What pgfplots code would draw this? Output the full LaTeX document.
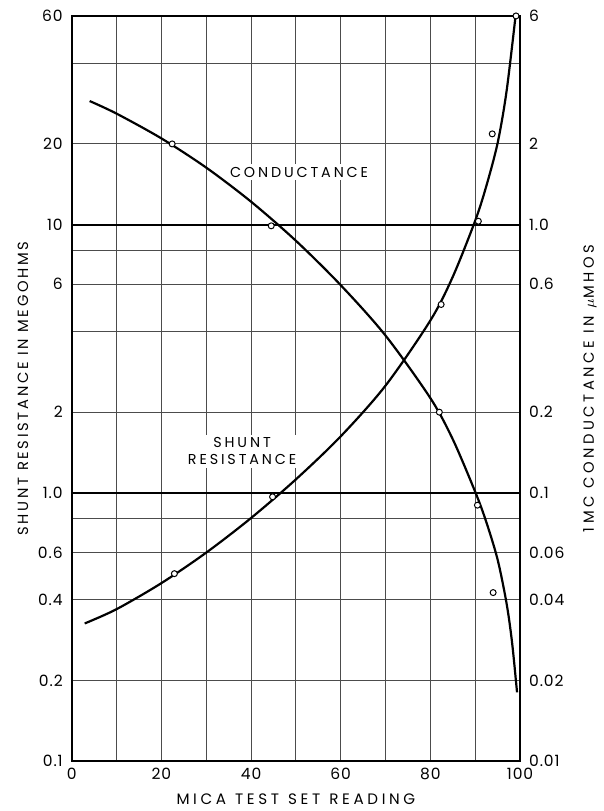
\documentclass[border=0pt]{standalone}
\usepackage{pgfplots}
\pgfplotsset{compat=1.18}
\usepackage{fontspec}
\setmainfont{Poppins}[LetterSpace=6]
\newfontfamily\lblfont{Poppins}[LetterSpace=20]
\newfontfamily\lblfontwide{Poppins}[LetterSpace=24]
\newfontfamily\lblfontnarrow{Poppins}[LetterSpace=18]
\begin{document}
\begin{tikzpicture}
\pgfplotsset{
  every axis/.append style={
    scale only axis,
    width=225pt, height=374pt,
    xmin=0, xmax=100,
    ymode=log,
    tick style={draw=none},
    major tick length=0pt,
    label style={font=\lblfont\fontsize{7.2}{8}\selectfont},
    tick label style={font=\fontsize{7.8}{8}\selectfont},
  },
}
\begin{axis}[
    name=main,
    ymin=0.1, ymax=60,
    xtick={0,10,...,100},
    xticklabels={0,,20,,40,,60,,80,,100},
    ytick={0.1,0.2,0.4,0.6,0.8,1,2,4,6,8,10,20,40,60},
    yticklabels={0.1,0.2,0.4,0.6,,1.0,2,,6,,10,20,,60},
    xmajorgrids, ymajorgrids,
    grid style={black!70, line width=0.5pt},
    axis line style={line width=1pt},
    extra y ticks={1,10},
    extra y tick labels={},
    extra y tick style={grid style={black, line width=1pt}},
    xlabel={MICA\hspace{0.6em}TEST\hspace{0.6em}SET\hspace{0.6em}READING},
    xlabel style={font=\lblfontwide\fontsize{7.6}{8}\selectfont},
    ylabel={SHUNT RESISTANCE IN MEGOHMS},
    ylabel style={yshift=-2pt, font=\lblfontnarrow\fontsize{7.4}{8}\selectfont},
    yticklabel style={xshift=-1pt},
]
% conductance (falling)
\addplot[black, line width=1.1pt, smooth] coordinates {
  (4.0,28.9)(10,25.94)(20,20.97)(30,16.32)(40,12.18)(50,8.71)(60,5.95)
  (70,3.86)(80,2.256)(85,1.584)(90,1.009)(92.44,0.782)(95,0.564)
  (97,0.387)(98.22,0.277)(99.33,0.1805)
};
% shunt resistance (rising)
\addplot[black, line width=1.1pt, smooth] coordinates {
  (2.89,0.326)(10,0.3686)(20,0.4609)(30,0.5989)(40,0.806)(50,1.123)
  (60,1.625)(70,2.512)(80,4.394)(85,6.396)(90,10.35)(92.44,13.86)
  (95,20.15)(97,31.48)(99.0,60)
};
\addplot[only marks, mark=*, mark size=1.5pt,
  mark options={fill=white, draw=black, line width=0.5pt}] coordinates {
  (22.4,20)(44.5,9.9)(82,2.0)(90.5,0.9)(94,0.425)
  (22.9,0.5)(44.8,0.967)(82.4,5.04)(90.7,10.3)(93.8,21.8)(99.1,60)
};
\node[fill=white, inner sep=1.5pt, font=\lblfont\fontsize{7.2}{8}\selectfont]
  at (axis cs:50.7,15.7) {CONDUCTANCE};
\node[fill=white, inner sep=1.5pt, align=center,
  font=\lblfont\fontsize{7.2}{8.6}\selectfont] at (axis cs:38,1.43)
  {SHUNT\\RESISTANCE};
\end{axis}
\begin{axis}[
    ymin=0.01, ymax=6,
    axis y line*=right,
    axis x line=none,
    ytick={0.01,0.02,0.04,0.06,0.1,0.2,0.6,1,2,6},
    yticklabels={0.01,0.02,0.04,0.06,0.1,0.2,0.6,1.0,2,6},
    axis line style={line width=1pt},
    ylabel={1MC CONDUCTANCE IN $\mu$MHOS},
    ylabel style={yshift=-2.5pt, font=\lblfontwide\fontsize{7.4}{8}\selectfont},
    yticklabel style={xshift=1pt},
]
\addplot[draw=none] coordinates {(0,0.1)(100,1)};
\end{axis}
\useasboundingbox ([xshift=-36pt,yshift=-23.5pt]main.south west)
  rectangle ([xshift=39pt,yshift=8pt]main.north east);
\end{tikzpicture}
\end{document}
